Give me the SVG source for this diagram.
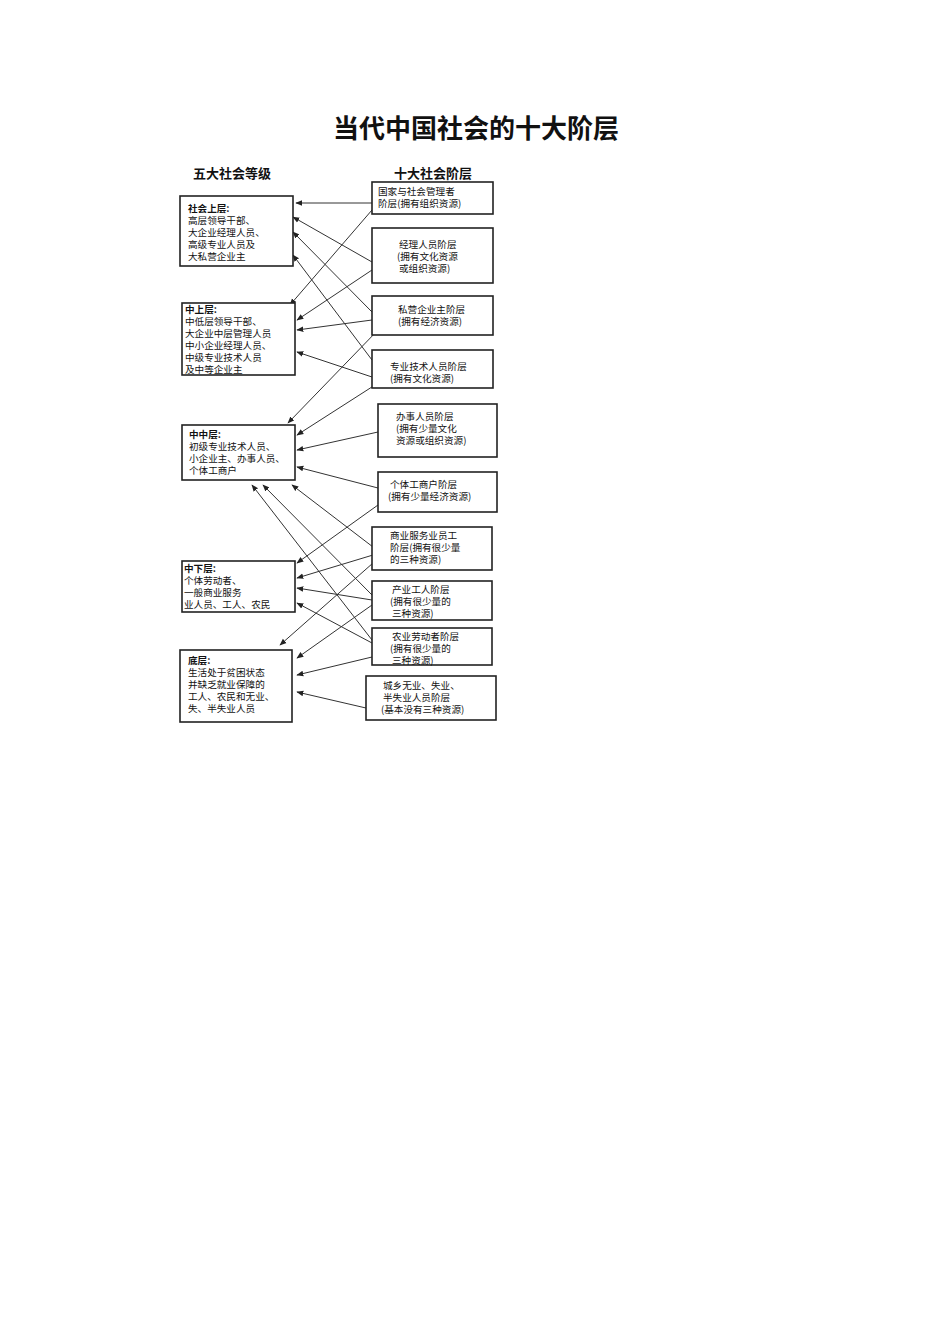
<svg xmlns="http://www.w3.org/2000/svg" width="950" height="1344" viewBox="0 0 950 1344">
<style>
text{font-family:"Noto Sans CJK SC","Liberation Sans",sans-serif;fill:#111}
.t{font-size:9.6px}
.b{font-weight:bold}
rect{fill:#fff;stroke:#222;stroke-width:1.6}
#conn line{stroke:#333;stroke-width:1}
</style>
<defs><marker id="a" viewBox="0 0 10 10" refX="9" refY="5" markerWidth="7" markerHeight="7" orient="auto"><path d="M0,1L10,5L0,9z" fill="#222"/></marker></defs>
<rect x="0" y="0" width="950" height="1344" style="stroke:none"/>
<text x="476" y="138" text-anchor="middle" font-size="26" font-weight="bold">当代中国社会的十大阶层</text>
<text x="232" y="178" text-anchor="middle" font-size="13" font-weight="bold">五大社会等级</text>
<text x="433" y="178" text-anchor="middle" font-size="13" font-weight="bold">十大社会阶层</text>
<g id="conn" marker-end="url(#a)">
<line x1="372" y1="203" x2="296" y2="203"/>
<line x1="372" y1="210" x2="290" y2="305"/>
<line x1="372" y1="262" x2="293" y2="217"/>
<line x1="372" y1="312" x2="293" y2="232"/>
<line x1="372" y1="360" x2="293" y2="255"/>
<line x1="372" y1="270" x2="297" y2="320"/>
<line x1="372" y1="320" x2="297" y2="330"/>
<line x1="372" y1="377" x2="297" y2="352"/>
<line x1="378" y1="330" x2="288" y2="423"/>
<line x1="375" y1="385" x2="297" y2="435"/>
<line x1="378" y1="432" x2="297" y2="450"/>
<line x1="378" y1="488" x2="297" y2="467"/>
<line x1="373" y1="547" x2="292" y2="485"/>
<line x1="372" y1="595" x2="263" y2="485"/>
<line x1="372" y1="640" x2="252" y2="485"/>
<line x1="378" y1="505" x2="297" y2="563"/>
<line x1="373" y1="555" x2="297" y2="578"/>
<line x1="373" y1="563" x2="280" y2="645"/>
<line x1="372" y1="600" x2="297" y2="588"/>
<line x1="372" y1="605" x2="297" y2="658"/>
<line x1="372" y1="643" x2="297" y2="603"/>
<line x1="372" y1="657" x2="297" y2="675"/>
<line x1="366" y1="708" x2="297" y2="692"/>
</g>
<g id="L1"><rect x="180" y="196" width="113" height="70"/><text class="t" x="188" y="212"><tspan class="b">社会上层:</tspan><tspan x="188" dy="12">高层领导干部、</tspan><tspan x="188" dy="12">大企业经理人员、</tspan><tspan x="188" dy="12">高级专业人员及</tspan><tspan x="188" dy="12">大私营企业主</tspan></text></g>
<g id="L2"><rect x="182" y="303" width="113" height="72"/><text class="t" x="185" y="313"><tspan class="b">中上层:</tspan><tspan x="185" dy="12">中低层领导干部、</tspan><tspan x="185" dy="12">大企业中层管理人员</tspan><tspan x="185" dy="12">中小企业经理人员、</tspan><tspan x="185" dy="12">中级专业技术人员</tspan><tspan x="185" dy="12">及中等企业主</tspan></text></g>
<g id="L3"><rect x="182" y="425" width="113" height="55"/><text class="t" x="189" y="438"><tspan class="b">中中层:</tspan><tspan x="189" dy="12">初级专业技术人员、</tspan><tspan x="189" dy="12">小企业主、办事人员、</tspan><tspan x="189" dy="12">个体工商户</tspan></text></g>
<g id="L4"><rect x="182" y="561" width="113" height="51"/><text class="t" x="184" y="572"><tspan class="b">中下层:</tspan><tspan x="184" dy="12">个体劳动者、</tspan><tspan x="184" dy="12">一般商业服务</tspan><tspan x="184" dy="12">业人员、工人、农民</tspan></text></g>
<g id="L5"><rect x="180" y="650" width="112" height="72"/><text class="t" x="188" y="664"><tspan class="b">底层:</tspan><tspan x="188" dy="12">生活处于贫困状态</tspan><tspan x="188" dy="12">并缺乏就业保障的</tspan><tspan x="188" dy="12">工人、农民和无业、</tspan><tspan x="188" dy="12">失、半失业人员</tspan></text></g>
<g id="R1"><rect x="372" y="182" width="121" height="32"/><text class="t" x="378" y="195"><tspan>国家与社会管理者</tspan><tspan x="378" dy="12">阶层(拥有组织资源)</tspan></text></g>
<g id="R2"><rect x="372" y="228" width="121" height="55"/><text class="t" x="399" y="248"><tspan>经理人员阶层</tspan><tspan x="397" dy="12">(拥有文化资源</tspan><tspan x="399" dy="12">或组织资源)</tspan></text></g>
<g id="R3"><rect x="372" y="296" width="121" height="39"/><text class="t" x="398" y="313"><tspan>私营企业主阶层</tspan><tspan x="398" dy="12">(拥有经济资源)</tspan></text></g>
<g id="R4"><rect x="372" y="350" width="121" height="38"/><text class="t" x="390" y="370"><tspan>专业技术人员阶层</tspan><tspan x="390" dy="12">(拥有文化资源)</tspan></text></g>
<g id="R5"><rect x="378" y="404" width="119" height="53"/><text class="t" x="396" y="420"><tspan>办事人员阶层</tspan><tspan x="396" dy="12">(拥有少量文化</tspan><tspan x="396" dy="12">资源或组织资源)</tspan></text></g>
<g id="R6"><rect x="378" y="472" width="119" height="40"/><text class="t" x="390" y="488"><tspan>个体工商户阶层</tspan><tspan x="388" dy="12">(拥有少量经济资源)</tspan></text></g>
<g id="R7"><rect x="372" y="527" width="120" height="43"/><text class="t" x="390" y="539"><tspan>商业服务业员工</tspan><tspan x="390" dy="12">阶层(拥有很少量</tspan><tspan x="390" dy="12">的三种资源)</tspan></text></g>
<g id="R8"><rect x="372" y="581" width="120" height="39"/><text class="t" x="392" y="593"><tspan>产业工人阶层</tspan><tspan x="390" dy="12">(拥有很少量的</tspan><tspan x="392" dy="12">三种资源)</tspan></text></g>
<g id="R9"><rect x="372" y="628" width="120" height="37"/><text class="t" x="392" y="640"><tspan>农业劳动者阶层</tspan><tspan x="390" dy="12">(拥有很少量的</tspan><tspan x="392" dy="12">三种资源)</tspan></text></g>
<g id="R10"><rect x="366" y="676" width="130" height="44"/><text class="t" x="383" y="689"><tspan>城乡无业、失业、</tspan><tspan x="383" dy="12">半失业人员阶层</tspan><tspan x="381" dy="12">(基本没有三种资源)</tspan></text></g>
</svg>
